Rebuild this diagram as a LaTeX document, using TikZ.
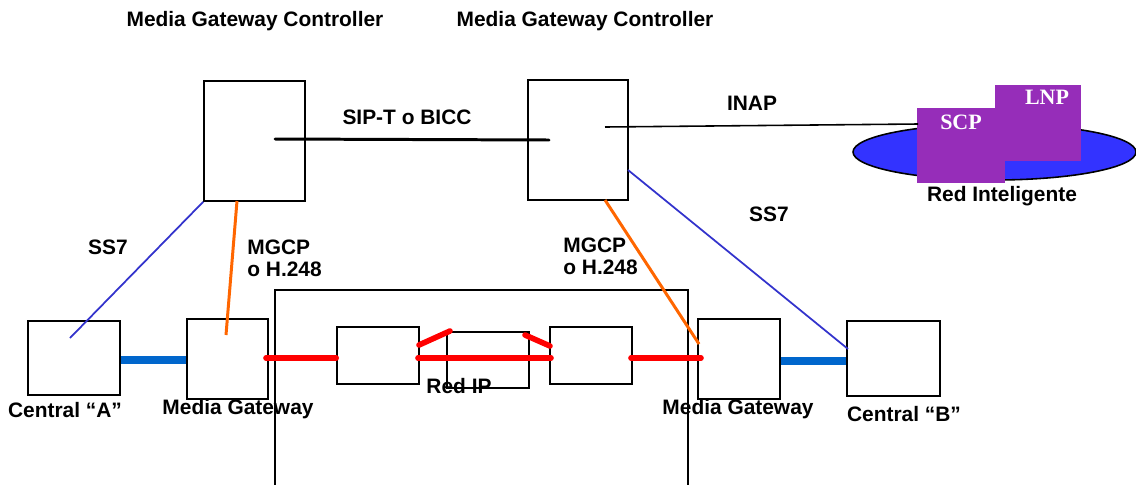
\documentclass[tikz,border=0pt]{standalone}
\usepackage{fontspec}
\setmainfont{Liberation Sans}
\newfontfamily\scpfont{Liberation Serif}
\usetikzlibrary{positioning,shapes.geometric}
\definecolor{ssblue}{RGB}{51,51,204}
\definecolor{mgorange}{RGB}{255,102,0}
\definecolor{tdmblue}{RGB}{0,102,204}
\definecolor{inblue}{RGB}{51,51,255}
\definecolor{scppurple}{RGB}{150,45,185}
\tikzset{
  box/.style={draw,line width=0.9pt,fill=white,inner sep=0pt},
  lbl/.style={font=\fontsize{11.9}{12.5}\selectfont\bfseries,inner sep=0pt,align=left},
  dbbox/.style={fill=scppurple,inner sep=0pt,text=white,font=\scpfont\fontsize{12.5}{13}\selectfont\bfseries},
  ss7line/.style={ssblue,line width=1pt},
  mgcpline/.style={mgorange,line width=1.7pt},
  tdmline/.style={tdmblue,line width=4pt},
  rtpline/.style={red,line width=3.2pt,line cap=round}
}
\begin{document}
\begin{tikzpicture}[x=0.02cm,y=-0.02cm]
\useasboundingbox (0,0) rectangle (1136,484);
\node[draw,line width=0.9pt,minimum width=8.26cm,minimum height=4cm] (ipnet) at (481.5,390) {};
\node[box,minimum width=2.02cm,minimum height=2.4cm] (mgc1) at (254.5,141) {};
\node[box,minimum width=2cm,minimum height=2.4cm] (mgc2) at (578,140) {};
\node[box,minimum width=1.84cm,minimum height=1.48cm] (ca) at (74,358) {};
\node[box,minimum width=1.62cm,minimum height=1.6cm] (mg1) at (227.5,359) {};
\node[box,minimum width=1.64cm,minimum height=1.14cm] (r1) at (378,355.5) {};
\node[box,minimum width=1.64cm,minimum height=1.12cm] (r2) at (488,360) {};
\node[box,minimum width=1.64cm,minimum height=1.14cm] (r3) at (591,355.5) {};
\node[box,minimum width=1.64cm,minimum height=1.6cm] (mg2) at (739,359) {};
\node[box,minimum width=1.86cm,minimum height=1.5cm] (cb) at (893.5,358.5) {};
\node[ellipse,draw,line width=0.9pt,fill=inblue,minimum width=5.66cm,minimum height=1.12cm] (in) at (994.5,152) {};
\node[dbbox,minimum width=1.76cm,minimum height=1.5cm] (scp) at (961,145.5) {};
\node[dbbox,minimum width=1.72cm,minimum height=1.52cm] (lnp) at (1038,123) {};
\node[dbbox,fill=none] (scptxt) at (961,122) {SCP};
\node[dbbox,fill=none] (lnptxt) at (1047,97) {LNP};
\coordinate (sipA) at (275,139);
\coordinate (sipB) at (549,140);
\coordinate (inapA) at (605,127);
\coordinate (inapB) at (918,124);
\coordinate (ss7A) at (70,338);
\coordinate (ss7B) at (628,170);
\coordinate (ss7C) at (848,349);
\coordinate (mgcpA) at (237,201);
\coordinate (mgcpB) at (226,335);
\coordinate (mgcpC) at (605,200);
\coordinate (mgcpD) at (699,344);
\coordinate (rtpA) at (266,358);
\coordinate (rtpB) at (418,358);
\coordinate (rtpC) at (551,358);
\coordinate (rtpD) at (631,358);
\coordinate (rtpE) at (701,358);
\coordinate (r1up) at (419,345);
\coordinate (r2upl) at (450,331);
\coordinate (r2upr) at (525,335);
\coordinate (r3up) at (550,346);
\draw[line width=1.7pt,line cap=round] (sipA) -- (sipB);
\draw[line width=0.9pt] (inapA) -- (inapB);
\draw[ss7line] (mgc1.south west) -- (ss7A);
\draw[ss7line] (ss7B) -- (ss7C);
\draw[mgcpline] (mgcpA) -- (mgcpB);
\draw[mgcpline] (mgcpC) -- (mgcpD);
\draw[tdmline] (ca.east |- 0,360) -- (mg1.west |- 0,360);
\draw[tdmline] (mg2.east |- 0,361) -- (cb.west |- 0,361);
\draw[rtpline] (rtpA) -- (r1.west |- rtpA);
\draw[rtpline] (rtpB) -- (rtpC);
\draw[rtpline] (rtpD) -- (rtpE);
\draw[rtpline] (r1up) -- (r2upl);
\draw[rtpline] (r2upr) -- (r3up);
\node[lbl] (mgc1t) at (255,21) {Media Gateway Controller};
\node[lbl] (mgc2t) at (585,21) {Media Gateway Controller};
\node[lbl] (sipt) at (407,117) {SIP-T o BICC};
\node[lbl] (inapt) at (752,103) {INAP};
\node[lbl] (int) at (1002,196) {Red Inteligente};
\node[lbl] (ss7l) at (108,247) {SS7};
\node[lbl] (ss7r) at (769,214) {SS7};
\node[lbl,anchor=west] (mgcpl) at (247,258) {MGCP\\o H.248};
\node[lbl,anchor=west] (mgcpr) at (563,256) {MGCP\\o H.248};
\node[lbl] (cat) at (65,410) {Central “A”};
\node[lbl] (mg1t) at (238,409) {Media Gateway};
\node[lbl] (ipt) at (459,386) {Red IP};
\node[lbl] (mg2t) at (738,409) {Media Gateway};
\node[lbl] (cbt) at (904,414) {Central “B”};
\end{tikzpicture}
\end{document}
